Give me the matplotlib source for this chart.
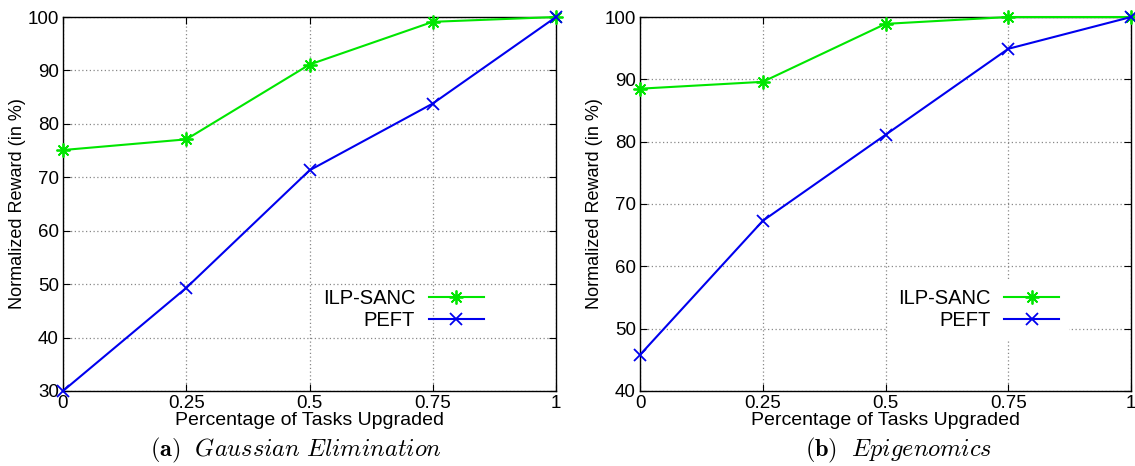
import numpy as np
import matplotlib.pyplot as plt

plt.rcParams['font.family'] = ['Liberation Sans', 'DejaVu Sans']
plt.rcParams['mathtext.fontset'] = 'cm'

x = [0, 0.25, 0.5, 0.75, 1]
xticklabels = ['0', '0.25', '0.5', '0.75', '1']

# (a) Gaussian Elimination
ilp_a = [75.1, 77.1, 91.1, 99.1, 100]
peft_a = [30.0, 49.3, 71.3, 83.8, 100]
# (b) Epigenomics
ilp_b = [88.5, 89.6, 98.9, 100, 100]
peft_b = [45.8, 67.3, 81.1, 94.9, 100]

green = '#00e600'
blue = '#0000ee'

fig = plt.figure(figsize=(11.35, 4.66), dpi=100)
ax1 = fig.add_axes([0.0555, 0.161, 0.4344, 0.8025])
ax2 = fig.add_axes([0.5639, 0.161, 0.4326, 0.8025])


def draw(ax, ilp, peft, ylo, caption, cap_x, legend_bg):
    ax.plot(x, ilp, color=green, lw=1.5, marker=(8, 2, 0), ms=10, mew=1.3,
            label='ILP-SANC', clip_on=False, zorder=3)
    ax.plot(x, peft, color=blue, lw=1.5, marker='x', ms=9, mew=1.3,
            label='PEFT', clip_on=False, zorder=3)
    ax.set_xlim(0, 1)
    ax.set_ylim(ylo, 100)
    ax.set_xticks(x)
    ax.set_xticklabels(xticklabels)
    ax.set_yticks(np.arange(ylo, 101, 10))
    ax.grid(True, color='#888888', ls=(0, (1, 2)), lw=0.9)
    ax.tick_params(direction='in', top=True, right=True, length=5,
                   labelsize=13.5, pad=3)
    for s in ax.spines.values():
        s.set_linewidth(1.0)
    ax.set_xlabel('Percentage of Tasks Upgraded', fontsize=14, labelpad=0)
    ax.set_ylabel('Normalized Reward (in %)', fontsize=13, labelpad=1)
    leg = ax.legend(loc='center right', bbox_to_anchor=(0.894, 0.217),
                    markerfirst=False, frameon=legend_bg, fontsize=14.5,
                    handlelength=2.7, handletextpad=0.7, labelspacing=0.15,
                    borderpad=0.5, fancybox=False)
    if legend_bg:
        leg.get_frame().set_edgecolor('none')
        leg.get_frame().set_facecolor('white')
        leg.get_frame().set_alpha(1)
    ax.text(cap_x, -0.16, caption, transform=ax.transAxes, ha='center',
            va='center', fontsize=17.5)


draw(ax1, ilp_a, peft_a, 30,
     r'$\mathbf{(a)}\ \ \mathit{Gaussian\ Elimination}$', 0.473, False)
draw(ax2, ilp_b, peft_b, 40,
     r'$\mathbf{(b)}\ \ \mathit{Epigenomics}$', 0.527, True)

fig.savefig('out.png', dpi=100)
